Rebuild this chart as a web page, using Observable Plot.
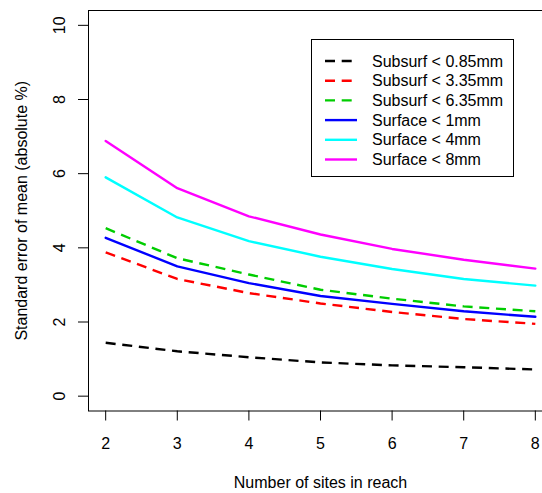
<!DOCTYPE html>
<html>
<head>
<meta charset="utf-8">
<script src="https://cdn.jsdelivr.net/npm/d3@7"></script>
<script src="https://cdn.jsdelivr.net/npm/@observablehq/plot@0.6"></script>
<style>
  html, body { margin: 0; padding: 0; background: white; overflow: hidden; }
  #chart { width: 542px; height: 493px; overflow: hidden; }
</style>
</head>
<body>
<div id="chart"></div>
<script>
// ---- data ----
const sites = [2, 3, 4, 5, 6, 7, 8];
const subsurf085 = [1.44, 1.21, 1.05, 0.91, 0.83, 0.78, 0.72];
const subsurf335 = [3.88, 3.16, 2.78, 2.50, 2.27, 2.08, 1.95];
const subsurf635 = [4.53, 3.72, 3.28, 2.87, 2.63, 2.42, 2.29];
const surface1   = [4.27, 3.50, 3.05, 2.70, 2.49, 2.29, 2.14];
const surface4   = [5.90, 4.82, 4.18, 3.76, 3.43, 3.16, 2.98];
const surface8   = [6.88, 5.61, 4.85, 4.36, 3.97, 3.68, 3.44];

const seriesNames  = ["Subsurf < 0.85mm", "Subsurf < 3.35mm", "Subsurf < 6.35mm",
                      "Surface < 1mm", "Surface < 4mm", "Surface < 8mm"];
const seriesValues = [subsurf085, subsurf335, subsurf635, surface1, surface4, surface8];
const seriesColors = ["#000000", "#FF0000", "#00CD00", "#0000FF", "#00FFFF", "#FF00FF"];
const seriesDashed = [true, true, true, false, false, false];

const xTicks = [2, 3, 4, 5, 6, 7, 8];
const yTicks = [0, 2, 4, 6, 8, 10];
const xTitle = "Number of sites in reach";
const yTitle = "Standard error of mean (absolute %)";

// long table built from the arrays
const rows = [];
seriesNames.forEach((name, i) => {
  sites.forEach((s, j) => rows.push({series: name, sites: s, value: seriesValues[i][j]}));
});

const FONT = "'Liberation Sans', Arial, Helvetica, sans-serif";
const dash = "10,6.7";

const lineMarks = seriesNames.map((name, i) =>
  Plot.line(rows.filter(r => r.series === name), {
    x: "sites", y: "value",
    stroke: seriesColors[i], strokeWidth: 2.4,
    strokeDasharray: seriesDashed[i] ? dash : null,
    strokeLinecap: seriesDashed[i] ? "butt" : "round",
    strokeLinejoin: "round"
  })
);

const plot = Plot.plot({
  width: 542,
  height: 493,
  marginLeft: 88,
  marginRight: -10,
  marginTop: 10,
  marginBottom: 82.5,
  style: {fontFamily: FONT, fontSize: "16px", background: "white", color: "black"},
  x: {domain: [1.76, 8.24]},
  y: {domain: [-0.4, 10.4]},
  marks: [
    ...lineMarks,
    Plot.frame({stroke: "black", strokeWidth: 1}),
    Plot.axisX({ticks: xTicks, tickFormat: d3.format("d"), tickSize: 10, tickPadding: 17, fontSize: 16, label: null, stroke: "black"}),
    Plot.axisY({ticks: yTicks, tickFormat: d3.format("d"), tickSize: 10, tickPadding: 14, tickRotate: -90, fontSize: 16, label: null, stroke: "black"}),
    Plot.text([xTitle], {frameAnchor: "bottom", dy: 71.5, lineAnchor: "middle", textAnchor: "middle", fontSize: 16, text: d => d}),
    Plot.text([yTitle], {frameAnchor: "left", dx: -67, rotate: -90, lineAnchor: "middle", textAnchor: "middle", fontSize: 16, text: d => d})
  ]
});

document.getElementById("chart").appendChild(plot);

// ---- legend (R-style, top right) ----
const svg = d3.select(plot);
const lg = svg.append("g").attr("font-family", FONT).attr("font-size", 16).attr("text-anchor", "start");
lg.append("rect")
  .attr("x", 311.5).attr("y", 39.5).attr("width", 202).attr("height", 137)
  .attr("fill", "white").attr("stroke", "black").attr("stroke-width", 1);
seriesNames.forEach((name, i) => {
  const yy = 61 + i * 19.7;
  lg.append("line")
    .attr("x1", 325).attr("x2", 357).attr("y1", yy).attr("y2", yy)
    .attr("stroke", seriesColors[i]).attr("stroke-width", 2.4)
    .attr("stroke-dasharray", seriesDashed[i] ? dash : null);
  lg.append("text")
    .attr("x", 372).attr("y", yy).attr("dy", "0.35em")
    .attr("text-anchor", "start")
    .attr("fill", "black").text(name);
});
</script>
</body>
</html>
